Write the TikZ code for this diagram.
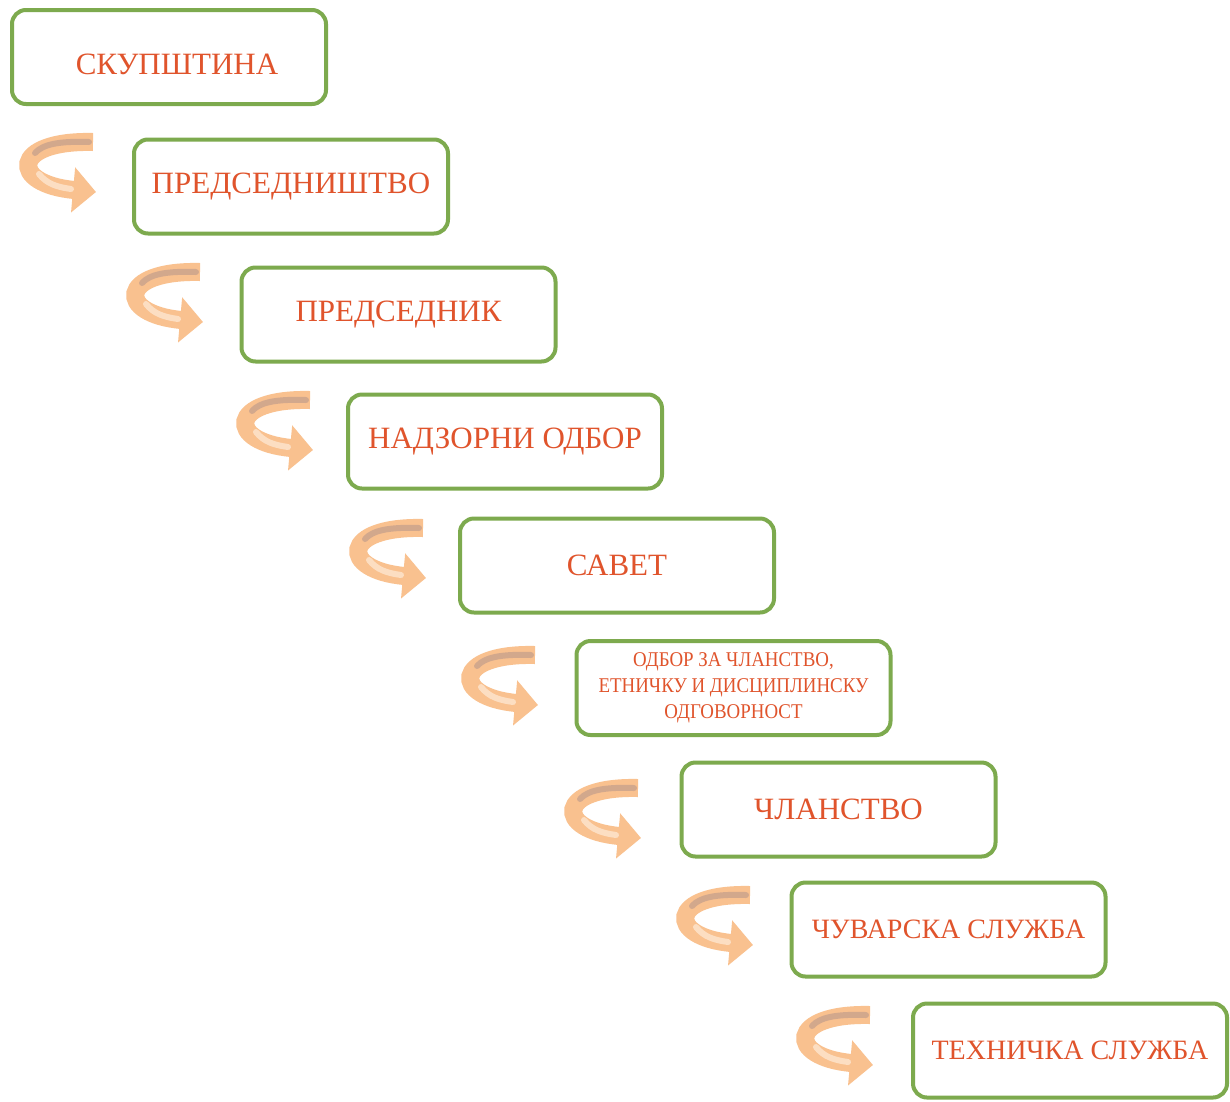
\documentclass[tikz,border=0pt]{standalone}
\usepackage{fontspec}
\setmainfont{Liberation Serif}
\newfontfamily\condfont[FakeStretch=0.9]{Liberation Serif}
\usetikzlibrary{arrows.meta}
\definecolor{boxgreen}{HTML}{7DAA4E}
\definecolor{txtorange}{HTML}{E0542C}
\definecolor{arrorange}{HTML}{F9C18F}
\definecolor{arrgray}{HTML}{C6A08C}
\definecolor{arrlight}{HTML}{FDE4CC}
\tikzset{
  orgbox/.style={draw=boxgreen, line width=4pt, rounded corners=14pt, fill=white,
    minimum width=314pt, minimum height=94pt, inner sep=0pt, text=txtorange,
    font=\fontsize{31}{34}\selectfont, align=center},
  smalltext/.style={font=\condfont\fontsize{21}{26}\selectfont},
  narrowtext/.style={font=\fontsize{28}{32}\selectfont},
  turnarrow/.pic={
    \draw[arrorange, line width=18pt, -{Triangle[length=23pt,width=44pt]}]
      (-2,10) .. controls (-84,8) and (-86,52) .. (1,60);
    \draw[arrgray, opacity=0.75, line width=6pt, line cap=round]
      (-6,10) .. controls (-35,9) and (-52,12) .. (-60,21);
    \draw[arrlight, opacity=0.85, line width=6pt, line cap=round]
      (-56,42) .. controls (-48,52) and (-38,55) .. (-24,57);
  }
}
\begin{document}
\begin{tikzpicture}[x=1pt, y=-1pt]
\useasboundingbox[fill=white] (0,0) rectangle (1230,1101);
\node[orgbox] (b1) at (169,57) {};
\node[text=txtorange, font=\fontsize{31}{34}\selectfont] (t1) at (177,64) {СКУПШТИНА};
\node[orgbox] (b2) at (291,186.5) {ПРЕДСЕДНИШТВО};
\node[orgbox] (b3) at (398.5,314.5) {ПРЕДСЕДНИК};
\node[orgbox] (b4) at (505,441.5) {НАДЗОРНИ ОДБОР};
\node[orgbox] (b5) at (617,565.5) {САВЕТ};
\node[orgbox, smalltext] (b6) at (733.5,688) {ОДБОР ЗА ЧЛАНСТВО,\\ЕТНИЧКУ И ДИСЦИПЛИНСКУ\\ОДГОВОРНОСТ};
\node[orgbox] (b7) at (838.5,809.5) {ЧЛАНСТВО};
\node[orgbox, narrowtext] (b8) at (948.5,929.5) {ЧУВАРСКА СЛУЖБА};
\node[orgbox, narrowtext] (b9) at (1070,1050.5) {ТЕХНИЧКА СЛУЖБА};
\pic at (95,132) {turnarrow};
\pic at (202,262) {turnarrow};
\pic at (312,390) {turnarrow};
\pic at (425,518) {turnarrow};
\pic at (537,645) {turnarrow};
\pic at (640,778) {turnarrow};
\pic at (752,885) {turnarrow};
\pic at (872,1005) {turnarrow};
\end{tikzpicture}
\end{document}
